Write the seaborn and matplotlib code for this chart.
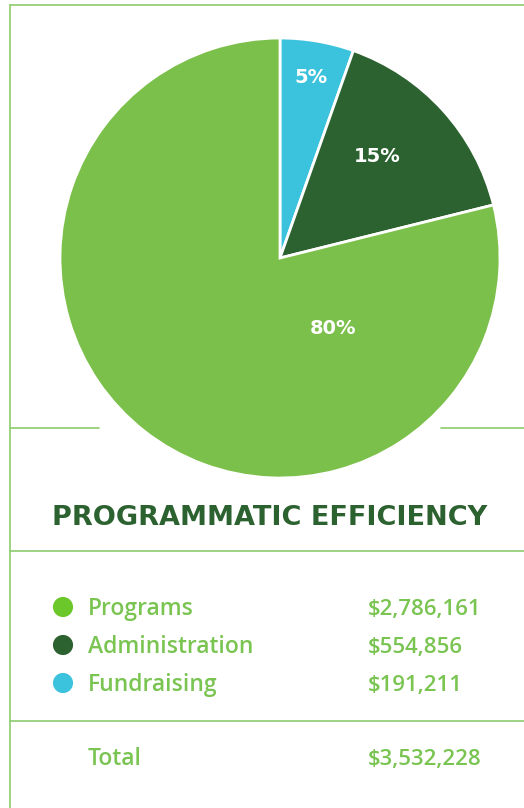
import matplotlib
matplotlib.use("Agg")
import matplotlib.pyplot as plt
import seaborn as sns

# ---- Data ----
categories = ["Fundraising", "Administration", "Programs"]
amounts = [191211, 554856, 2786161]
pct_labels = ["5%", "15%", "80%"]
slice_colors = ["#3BC2DC", "#2C6130", "#7BC04A"]

legend_names = ["Programs", "Administration", "Fundraising"]
legend_values = ["$2,786,161", "$554,856", "$191,211"]
legend_dots = ["#6CC72A", "#2C6130", "#3BC2DC"]
total_label = "Total"
total_value = "$3,532,228"
title = "PROGRAMMATIC EFFICIENCY"

sns.set_theme(style="white")
plt.rcParams["font.family"] = ["DejaVu Sans"]

W, H = 524, 808
fig = plt.figure(figsize=(W / 100, H / 100), dpi=100)

# overlay in pixel coords for rules and text
bg = fig.add_axes([0, 0, 1, 1])
bg.set_xlim(0, W)
bg.set_ylim(H, 0)
bg.axis("off")

rule = "#8DCB6B"
lw = 1.2
bg.plot([9.5, W], [5, 5], color=rule, lw=lw)
bg.plot([9.5, 9.5], [5, H], color=rule, lw=lw)
bg.plot([9.5, 99], [428, 428], color=rule, lw=lw)
bg.plot([441, W], [428, 428], color=rule, lw=lw)
bg.plot([9.5, W], [551, 551], color=rule, lw=lw)
bg.plot([9.5, W], [721, 721], color=rule, lw=lw)

# ---- Pie ----
cx, cy, r = 280, 258, 220
ax = fig.add_axes([(cx - r) / W, (H - cy - r) / H, 2 * r / W, 2 * r / H])
wedges, _ = ax.pie(amounts, colors=slice_colors, startangle=90, counterclock=False,
                   wedgeprops=dict(edgecolor="white", linewidth=2))
ax.set_xlim(-1, 1)
ax.set_ylim(-1, 1)
ax.set_aspect("equal")
ax.axis("off")

label_pos = [(0.14, 0.82), (0.44, 0.46), (0.24, -0.32)]
for (lx, ly), t in zip(label_pos, pct_labels):
    ax.text(lx, ly, t, color="white", fontsize=14, fontweight="heavy", ha="center", va="center")

# ---- Title ----
bg.text(270, 518, title, color="#2C6130", fontsize=19.5, fontweight="heavy",
        ha="center", va="center")

# ---- Legend table ----
green_txt = "#7AC452"
txt_font = ["Open Sans", "DejaVu Sans"]
rows_y = [607, 645, 683]
sns.scatterplot(x=[63] * 3, y=rows_y, hue=legend_names, palette=legend_dots,
                s=210, linewidth=0, ax=bg, legend=False)
for y, name, val in zip(rows_y, legend_names, legend_values):
    bg.text(88, y + 2, name, color=green_txt, fontsize=16.5, fontweight=600, family=txt_font,
            ha="left", va="center")
    bg.text(368, y + 2, val, color=green_txt, fontsize=16, fontweight=600, family=txt_font,
            ha="left", va="center")

bg.text(88, 759, total_label, color=green_txt, fontsize=16.5, fontweight=600, family=txt_font,
        ha="left", va="center")
bg.text(368, 759, total_value, color=green_txt, fontsize=16, fontweight=600, family=txt_font,
        ha="left", va="center")
bg.set_xlim(0, W)
bg.set_ylim(H, 0)

fig.savefig("out.png", dpi=100, facecolor="white")
